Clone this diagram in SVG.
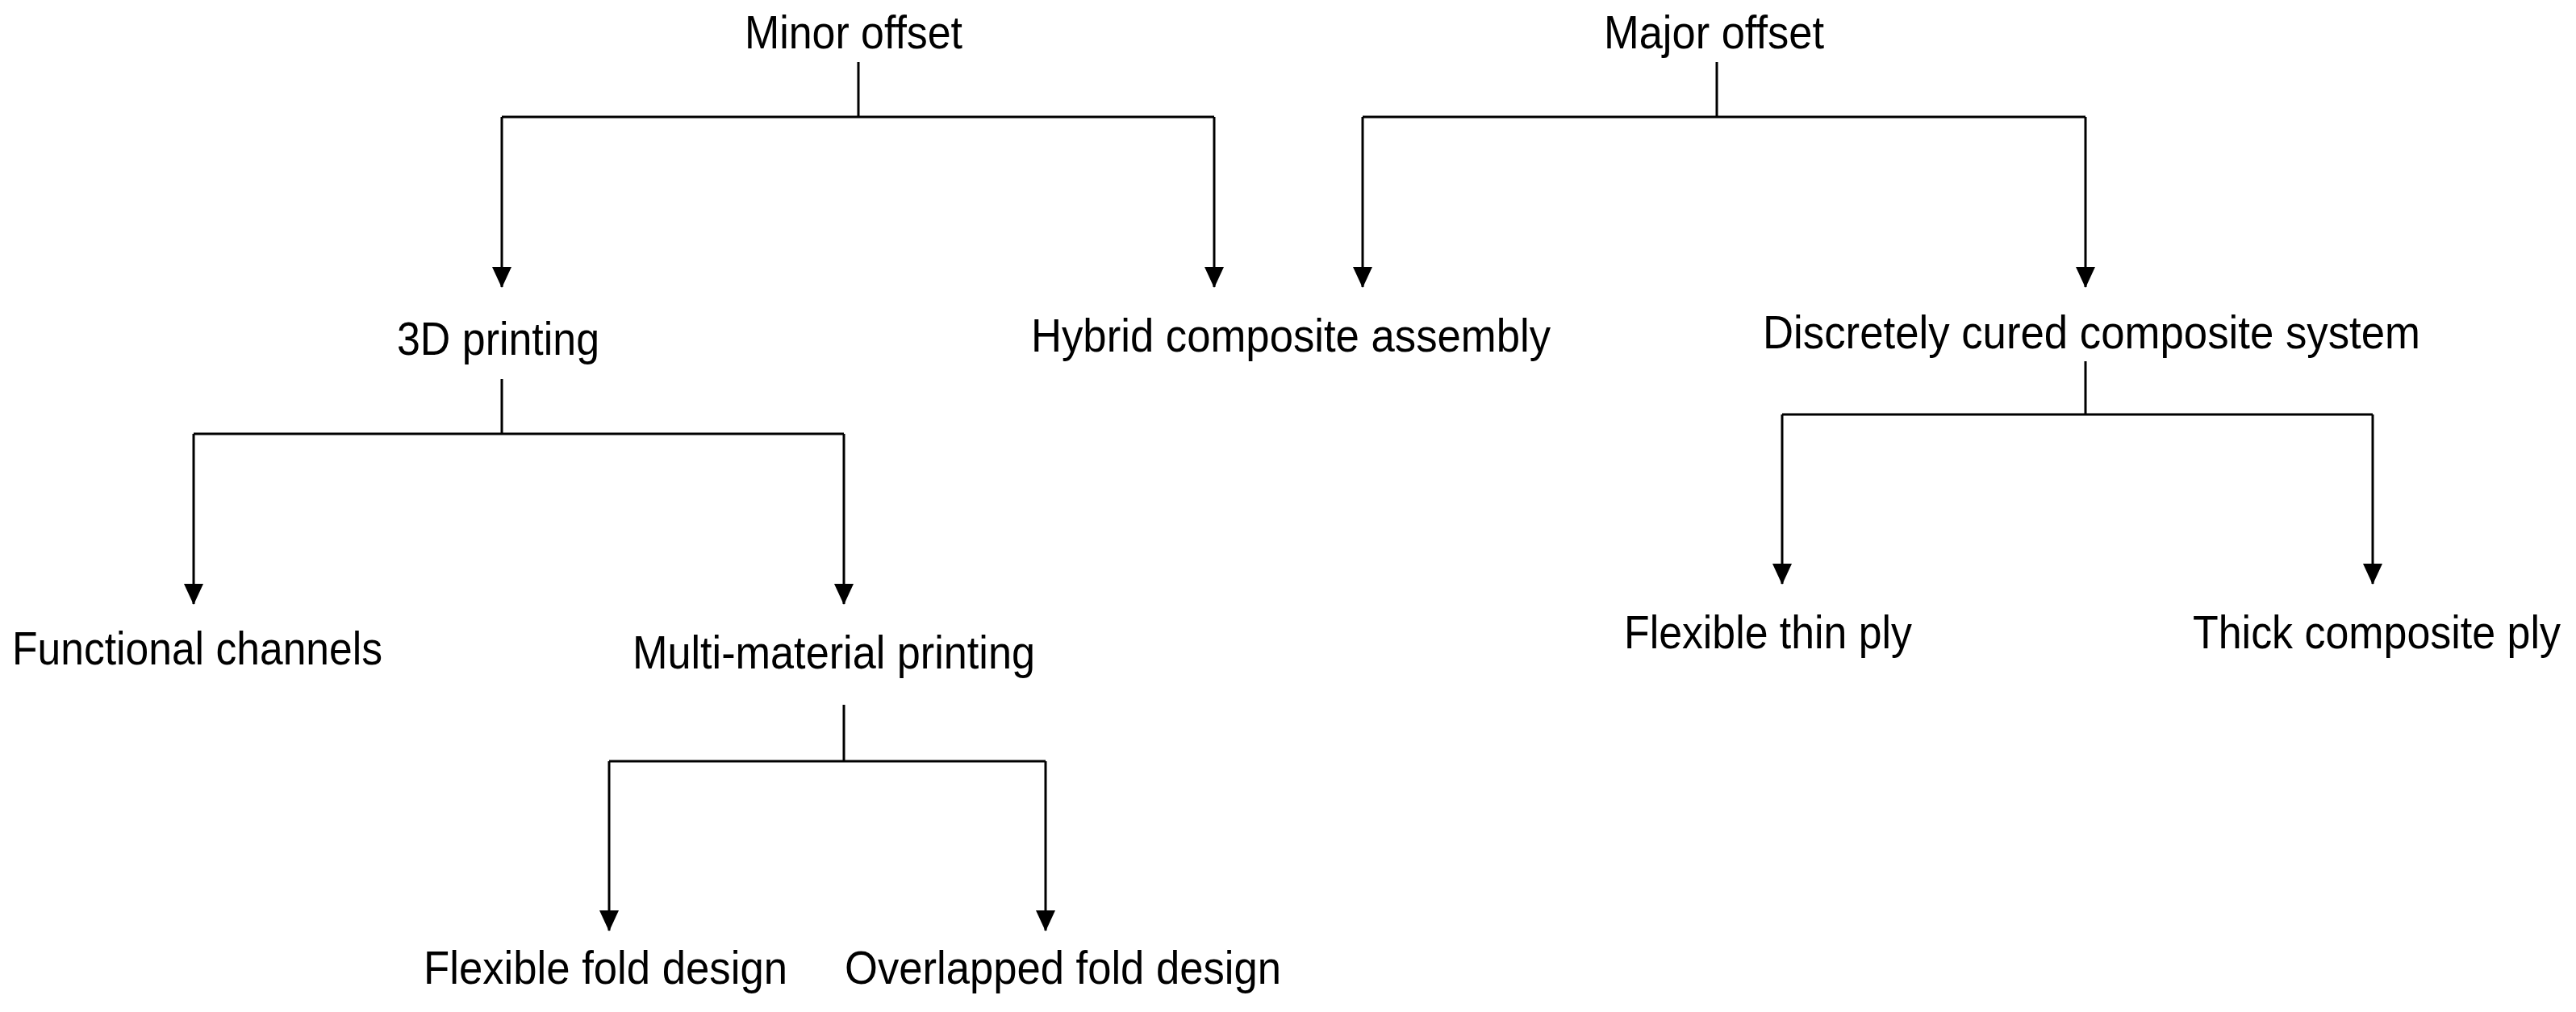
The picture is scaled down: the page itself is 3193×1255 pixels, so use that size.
<svg xmlns="http://www.w3.org/2000/svg" width="3193" height="1255" viewBox="0 0 3193 1255">
<style>
text{font-family:"Liberation Sans",Arial,sans-serif;font-size:58px;fill:#000}
.c path{fill:none;stroke:#000;stroke-width:3}
</style>
<defs><marker id="a" markerUnits="userSpaceOnUse" markerWidth="26" markerHeight="24" refX="25" refY="12" orient="auto" viewBox="0 0 26 24"><path d="M0,0 L26,12 L0,24 Z" fill="#000"/></marker></defs>
<rect width="3193" height="1255" fill="#fff"/>
<g class="c">
<path d="M1064,77 V145 M622,145 H1505"/>
<path d="M622,145 V356" marker-end="url(#a)"/>
<path d="M1505,145 V356" marker-end="url(#a)"/>
<path d="M2128,77 V145 M1689,145 H2585"/>
<path d="M1689,145 V356" marker-end="url(#a)"/>
<path d="M2585,145 V356" marker-end="url(#a)"/>
<path d="M622,470 V538 M240,538 H1046"/>
<path d="M240,538 V749" marker-end="url(#a)"/>
<path d="M1046,538 V749" marker-end="url(#a)"/>
<path d="M1046,874 V944 M755,944 H1296"/>
<path d="M755,944 V1154" marker-end="url(#a)"/>
<path d="M1296,944 V1154" marker-end="url(#a)"/>
<path d="M2585,448 V514 M2209,514 H2941"/>
<path d="M2209,514 V724" marker-end="url(#a)"/>
<path d="M2941,514 V724" marker-end="url(#a)"/>
</g>
<g id="n1"><text x="923" y="60" textLength="270" lengthAdjust="spacingAndGlyphs">Minor offset</text></g>
<g id="n2"><text x="1988" y="60" textLength="273" lengthAdjust="spacingAndGlyphs">Major offset</text></g>
<g id="n3"><text x="492" y="440" textLength="251" lengthAdjust="spacingAndGlyphs">3D printing</text></g>
<g id="n4"><text x="1278" y="436" textLength="644" lengthAdjust="spacingAndGlyphs">Hybrid composite assembly</text></g>
<g id="n5"><text x="2185" y="432" textLength="815" lengthAdjust="spacingAndGlyphs">Discretely cured composite system</text></g>
<g id="n6"><text x="15" y="824" textLength="459" lengthAdjust="spacingAndGlyphs">Functional channels</text></g>
<g id="n7"><text x="784" y="829" textLength="499" lengthAdjust="spacingAndGlyphs">Multi-material printing</text></g>
<g id="n8"><text x="2013" y="804" textLength="357" lengthAdjust="spacingAndGlyphs">Flexible thin ply</text></g>
<g id="n9"><text x="2718" y="804" textLength="456" lengthAdjust="spacingAndGlyphs">Thick composite ply</text></g>
<g id="n10"><text x="525" y="1220" textLength="451" lengthAdjust="spacingAndGlyphs">Flexible fold design</text></g>
<g id="n11"><text x="1047" y="1220" textLength="541" lengthAdjust="spacingAndGlyphs">Overlapped fold design</text></g>
</svg>
